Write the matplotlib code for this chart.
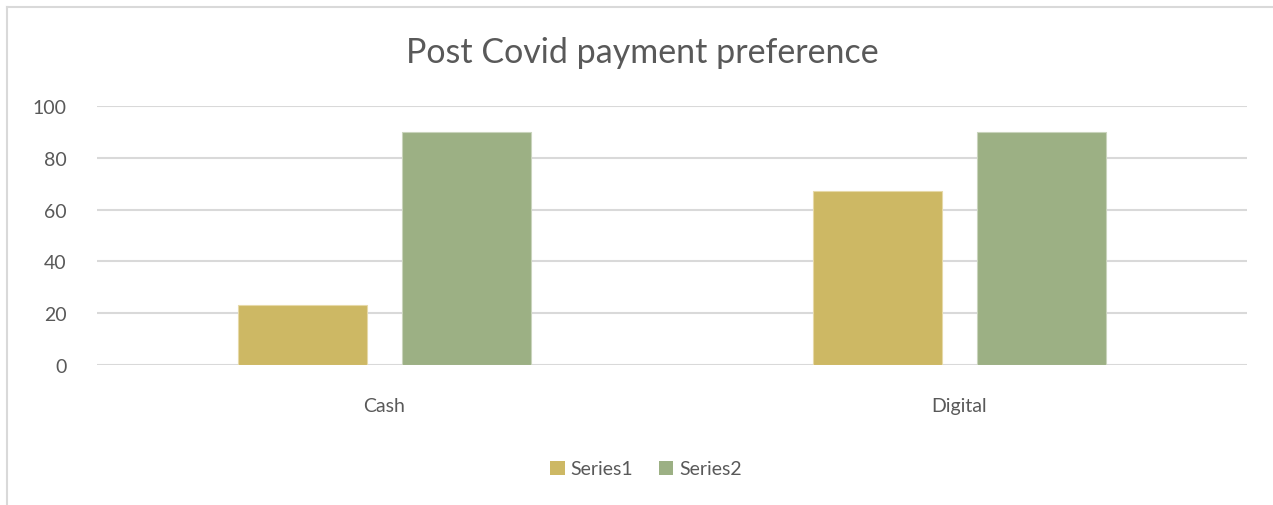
import numpy as np
import matplotlib.pyplot as plt
from matplotlib.lines import Line2D
from matplotlib.patches import Patch

categories = ['Cash', 'Digital']
series1 = [23, 67]
series2 = [90, 90]
yticks = [0, 20, 40, 60, 80, 100]

c1 = '#CDB864'
c2 = '#9CB084'
text_col = '#595959'
grid_col = '#D9D9D9'

plt.rcParams['font.family'] = ['Lato', 'DejaVu Sans']

fig = plt.figure(figsize=(12.73, 5.06), dpi=100)
ax = fig.add_axes([97 / 1273, 1 - 366 / 506, 1150 / 1273, 259 / 506])

x = np.arange(len(categories))
w = 0.224
off = 0.143
ax.bar(x - off, series1, w, color=c1, edgecolor='#E6D9A8', linewidth=0.8, zorder=3)
ax.bar(x + off, series2, w, color=c2, edgecolor='#C9D4BC', linewidth=0.8, zorder=3)

ax.set_xlim(-0.5, len(categories) - 0.5)
ax.set_ylim(0, 100)
ax.set_yticks(yticks)
ax.set_xticks(x)
ax.set_xticklabels(categories)
ax.yaxis.grid(True, color=grid_col, linewidth=1.5, zorder=0)
ax.set_axisbelow(True)
for s in ax.spines.values():
    s.set_visible(False)
ax.tick_params(axis='both', length=0, labelsize=14, colors=text_col)
ax.tick_params(axis='y', pad=22)
ax.tick_params(axis='x', pad=23)

fig.text(642 / 1273, 1 - 53 / 506, 'Post Covid payment preference',
         ha='center', va='center', fontsize=24.5, color=text_col)

handles = [Patch(facecolor=c1, label='Series1'), Patch(facecolor=c2, label='Series2')]
fig.legend(handles=handles, loc='center', bbox_to_anchor=(646 / 1273, 1 - 470 / 506),
           ncol=2, frameon=False, fontsize=14, labelcolor=text_col,
           handlelength=0.75, handleheight=0.75, handletextpad=0.3, columnspacing=1.3)

# chart-area border (only top and left visible in the crop)
fig.add_artist(Line2D([7 / 1273, 1], [1 - 8 / 506, 1 - 8 / 506], color=grid_col, linewidth=1.5))
fig.add_artist(Line2D([7 / 1273, 7 / 1273], [0, 1 - 8 / 506], color=grid_col, linewidth=1.5))

fig.savefig('out.png', dpi=100)
